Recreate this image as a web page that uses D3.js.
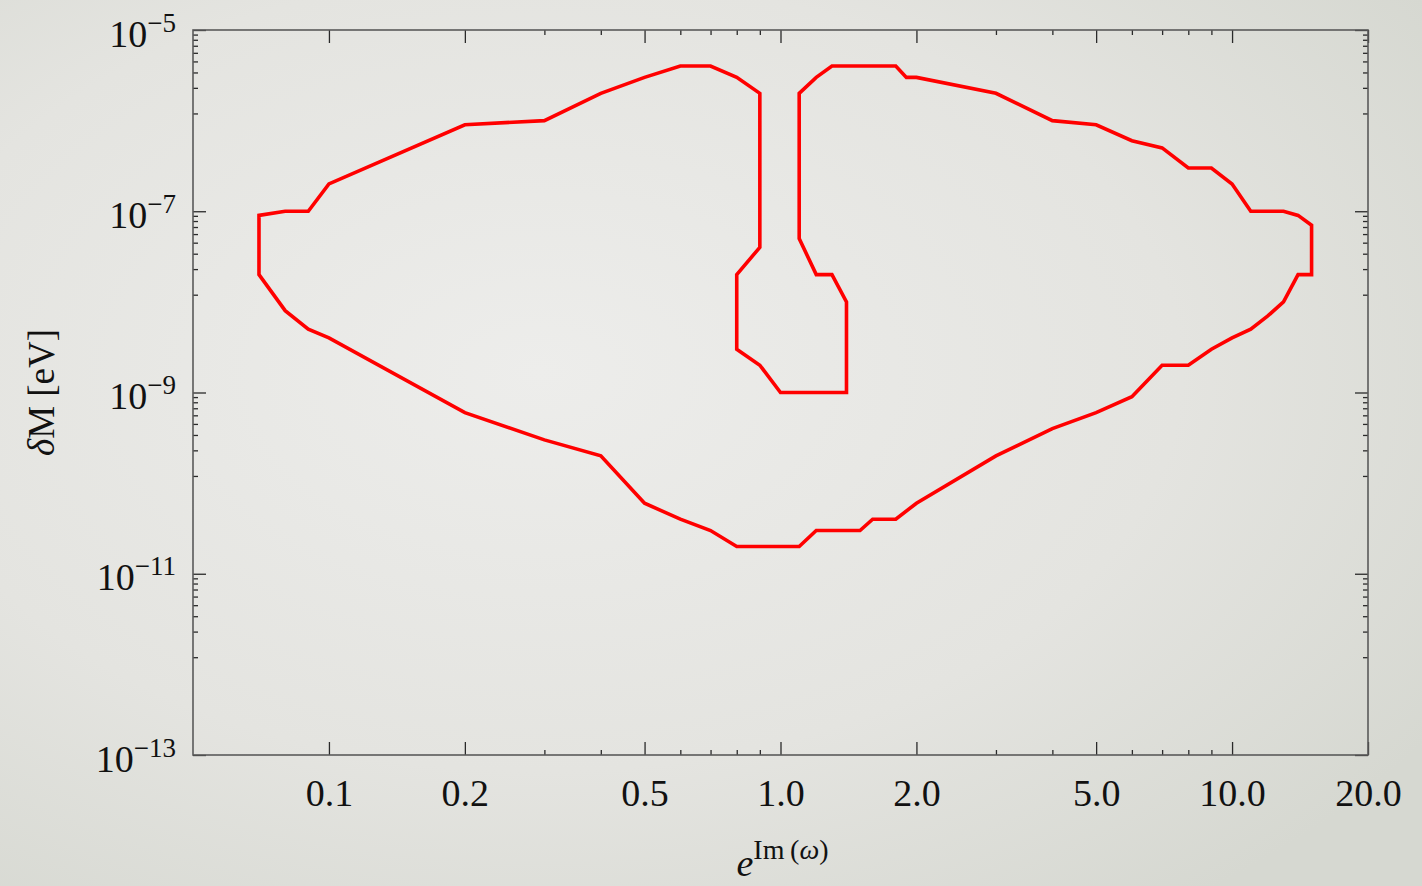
<!DOCTYPE html>
<html>
<head>
<meta charset="utf-8">
<script src="https://cdn.jsdelivr.net/npm/d3@7"></script>
<style>
  html, body { margin: 0; padding: 0; width: 1422px; height: 886px; overflow: hidden; }
  svg { display: block; }
  text { font-family: "Liberation Serif", "DejaVu Serif", "Times New Roman", serif; fill: #111; }
</style>
</head>
<body>
<svg id="chart" width="1422" height="886"></svg>
<script>
// Closed boundary of the allowed region, traced vertex by vertex
// x: e^{Im(ω)}, y: δM in eV
const contourE = [
  0.9, 0.9, 0.8, 0.8, 0.9, 1.0, 1.4, 1.4, 1.3, 1.2, 1.1, 1.1, 1.2, 1.3, 1.8, 1.9, 2.0,
  3, 4, 5, 6, 7, 8, 9, 10, 11, 13, 14, 15, 15, 14, 13, 12, 11, 10, 9, 8, 7, 6, 5, 4, 3,
  2.0, 1.8, 1.6, 1.5, 1.2, 1.1, 0.8, 0.7, 0.6, 0.5, 0.4, 0.3, 0.2, 0.1, 0.09, 0.08,
  0.07, 0.07, 0.08, 0.09, 0.1, 0.2, 0.3, 0.4, 0.5, 0.6, 0.7, 0.8
];
const contourDM = [
  2e-6, 4e-8, 2e-8, 3e-9, 2e-9, 1e-9, 1e-9, 1e-8, 2e-8, 2e-8, 5e-8, 2e-6, 3e-6, 4e-6, 4e-6, 3e-6, 3e-6,
  2e-6, 1e-6, 9e-7, 6e-7, 5e-7, 3e-7, 3e-7, 2e-7, 1e-7, 1e-7, 9e-8, 7e-8, 2e-8, 2e-8, 1e-8, 7e-9, 5e-9, 4e-9, 3e-9, 2e-9, 2e-9, 9e-10, 6e-10, 4e-10, 2e-10,
  6e-11, 4e-11, 4e-11, 3e-11, 3e-11, 2e-11, 2e-11, 3e-11, 4e-11, 6e-11, 2e-10, 3e-10, 6e-10, 4e-9, 5e-9, 8e-9,
  2e-8, 9e-8, 1e-7, 1e-7, 2e-7, 9e-7, 1e-6, 2e-6, 3e-6, 4e-6, 4e-6, 3e-6
];

// Axis ticks and their labels
const xMajorTicks = [0.1, 0.2, 0.5, 1, 2, 5, 10, 20];
const xMajorLabels = ["0.1", "0.2", "0.5", "1.0", "2.0", "5.0", "10.0", "20.0"];
const xMinorTicks = [0.3, 0.4, 0.6, 0.7, 0.8, 0.9, 3, 4, 6, 7, 8, 9];
const yMajorTicks = [1e-13, 1e-11, 1e-9, 1e-7, 1e-5];
const yMajorExponents = ["\u221213", "\u221211", "\u22129", "\u22127", "\u22125"];

// Minor y ticks: eight evenly spaced (linear) marks between neighbouring major ticks
const yMinorTicks = [];
for (let i = 0; i < yMajorTicks.length - 1; i++) {
  const a = yMajorTicks[i], b = yMajorTicks[i + 1];
  for (let k = 1; k <= 8; k++) yMinorTicks.push(a + k * (b - a) / 9);
}

const svg = d3.select("#chart");
const W = 1422, H = 886;
const plot = { left: 193, right: 1368, top: 30, bottom: 755 };

// Soft backdrop
const defs = svg.append("defs");
const grad = defs.append("radialGradient")
  .attr("id", "bg").attr("cx", "38%").attr("cy", "42%").attr("r", "75%");
grad.append("stop").attr("offset", "0%").attr("stop-color", "#ededeb");
grad.append("stop").attr("offset", "60%").attr("stop-color", "#e4e4e0");
grad.append("stop").attr("offset", "100%").attr("stop-color", "#d6d8d1");
svg.append("rect").attr("width", W).attr("height", H).attr("fill", "url(#bg)");

const x = d3.scaleLog().domain([0.05, 20]).range([plot.left, plot.right]);
const y = d3.scaleLog().domain([1e-13, 1e-5]).range([plot.bottom, plot.top]);

const majorLen = 13, minorLen = 5;

function styleTicks(g) {
  g.select(".domain").remove();
  g.selectAll(".tick line").attr("stroke", "#2a2a2a").attr("stroke-width", 1.3);
}

// Bottom axis (labelled)
const gxb = svg.append("g").attr("transform", `translate(0,${plot.bottom})`)
  .call(d3.axisBottom(x).tickValues(xMajorTicks).tickSizeInner(-majorLen).tickSizeOuter(0)
    .tickFormat((d, i) => xMajorLabels[i]));
styleTicks(gxb);
gxb.selectAll(".tick text")
  .attr("y", 51).attr("dy", 0)
  .attr("font-size", 38)
  .attr("fill", "#111");

svg.append("g").attr("transform", `translate(0,${plot.bottom})`)
  .call(d3.axisBottom(x).tickValues(xMinorTicks).tickSizeInner(-minorLen).tickSizeOuter(0).tickFormat(""))
  .call(styleTicks);

// Top axis (mirrored ticks)
svg.append("g").attr("transform", `translate(0,${plot.top})`)
  .call(d3.axisTop(x).tickValues(xMajorTicks).tickSizeInner(-majorLen).tickSizeOuter(0).tickFormat(""))
  .call(styleTicks);
svg.append("g").attr("transform", `translate(0,${plot.top})`)
  .call(d3.axisTop(x).tickValues(xMinorTicks).tickSizeInner(-minorLen).tickSizeOuter(0).tickFormat(""))
  .call(styleTicks);

// Left axis (labelled with powers of ten)
const gyl = svg.append("g").attr("transform", `translate(${plot.left},0)`)
  .call(d3.axisLeft(y).tickValues(yMajorTicks).tickSizeInner(-majorLen).tickSizeOuter(0).tickFormat(""));
styleTicks(gyl);
gyl.selectAll(".tick").each(function (d, i) {
  const t = d3.select(this).append("text")
    .attr("x", -17).attr("y", 16)
    .attr("text-anchor", "end")
    .attr("font-size", 38)
    .attr("fill", "#111");
  t.append("tspan").text("10");
  t.append("tspan").attr("font-size", 27).attr("dy", -15).text(yMajorExponents[i]);
});

svg.append("g").attr("transform", `translate(${plot.left},0)`)
  .call(d3.axisLeft(y).tickValues(yMinorTicks).tickSizeInner(-minorLen).tickSizeOuter(0).tickFormat(""))
  .call(styleTicks);

// Right axis (mirrored ticks)
svg.append("g").attr("transform", `translate(${plot.right},0)`)
  .call(d3.axisRight(y).tickValues(yMajorTicks).tickSizeInner(-majorLen).tickSizeOuter(0).tickFormat(""))
  .call(styleTicks);
svg.append("g").attr("transform", `translate(${plot.right},0)`)
  .call(d3.axisRight(y).tickValues(yMinorTicks).tickSizeInner(-minorLen).tickSizeOuter(0).tickFormat(""))
  .call(styleTicks);

// Frame
svg.append("rect")
  .attr("x", plot.left).attr("y", plot.top)
  .attr("width", plot.right - plot.left).attr("height", plot.bottom - plot.top)
  .attr("fill", "none").attr("stroke", "#5a5a5a").attr("stroke-width", 1.6);

// Region boundary
const pts = contourE.map((e, i) => [e, contourDM[i]]);
const line = d3.line().x(d => x(d[0])).y(d => y(d[1]));
svg.append("path")
  .attr("d", line(pts) + "Z")
  .attr("fill", "none")
  .attr("stroke", "#ff0000")
  .attr("stroke-width", 3.6)
  .attr("stroke-linejoin", "miter");

// Axis titles
const xt = svg.append("text")
  .attr("x", (plot.left + plot.right) / 2 + 2).attr("y", 876)
  .attr("text-anchor", "middle")
  .attr("font-size", 38);
xt.append("tspan").attr("font-style", "italic").text("e");
xt.append("tspan").attr("font-size", 28).attr("dy", -17).text("Im\u2009(");
xt.append("tspan").attr("font-size", 28).attr("font-style", "italic").text("\u03c9");
xt.append("tspan").attr("font-size", 28).text(")");

const yt = svg.append("text")
  .attr("transform", `translate(54,${(plot.top + plot.bottom) / 2}) rotate(-90)`)
  .attr("text-anchor", "middle")
  .attr("font-size", 37);
yt.append("tspan").attr("font-style", "italic").text("\u03b4");
yt.append("tspan").text("M [eV]");
</script>
</body>
</html>
